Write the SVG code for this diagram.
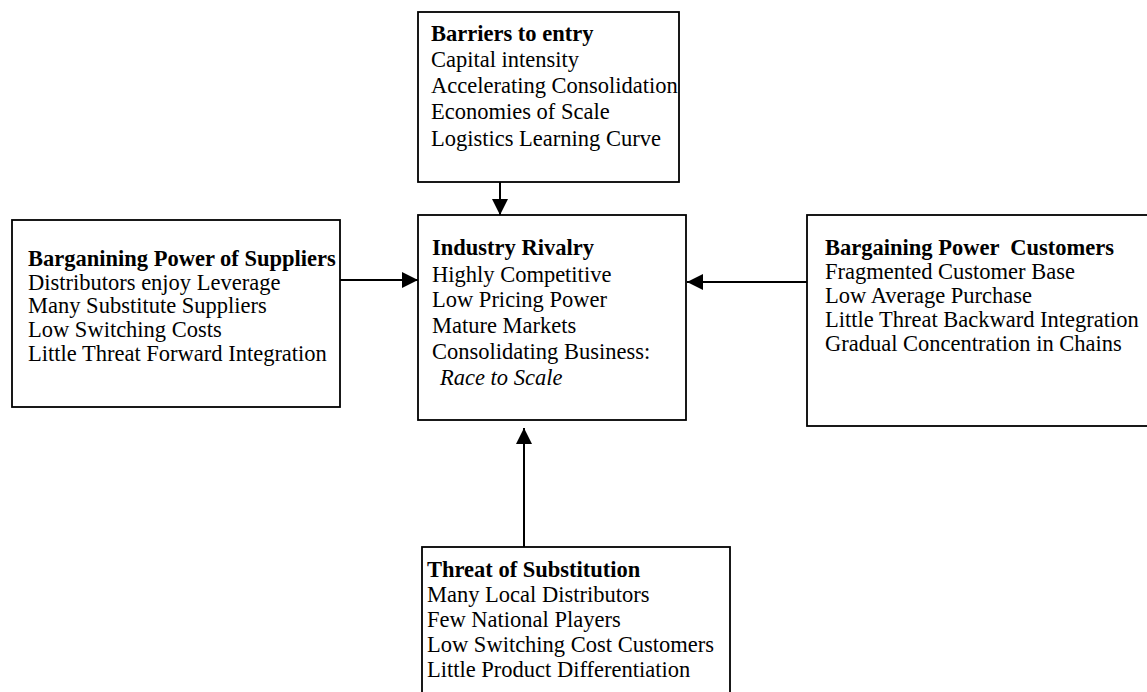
<svg xmlns="http://www.w3.org/2000/svg" width="1147" height="692" viewBox="0 0 1147 692">
<style>
.box{fill:#fff;stroke:#000;stroke-width:1.8}
.t{font-family:"Liberation Serif","Times New Roman",serif;font-size:22.5px;fill:#000}
.h{font-weight:bold}
.i{font-style:italic}
.c{stroke:#000;stroke-width:2;fill:none;marker-end:url(#ah)}
</style>
<defs>
<marker id="ah" viewBox="0 0 16 16" refX="16" refY="8" markerWidth="16" markerHeight="16" markerUnits="userSpaceOnUse" orient="auto">
<path d="M0,0 L16,8 L0,16 z" fill="#000"/>
</marker>
</defs>
<rect width="1147" height="692" fill="#fff"/>
<g id="connectors">
<path class="c" d="M500,182 L500,215"/>
<path class="c" d="M340,280 L418,280"/>
<path class="c" d="M807,282 L687,282"/>
<path class="c" d="M524,547 L524,428"/>
</g>
<g id="barriers">
<rect class="box" x="418" y="12" width="261" height="170"/>
<text class="t h" x="431" y="41">Barriers to entry</text>
<text class="t" x="431" y="67">Capital intensity</text>
<text class="t" x="431" y="93">Accelerating Consolidation</text>
<text class="t" x="431" y="119">Economies of Scale</text>
<text class="t" x="431" y="146">Logistics Learning Curve</text>
</g>
<g id="suppliers">
<rect class="box" x="12" y="220" width="328" height="187"/>
<text class="t h" x="28" y="266">Barganining Power of Suppliers</text>
<text class="t" x="28" y="290">Distributors enjoy Leverage</text>
<text class="t" x="28" y="313">Many Substitute Suppliers</text>
<text class="t" x="28" y="337">Low Switching Costs</text>
<text class="t" x="28" y="361">Little Threat Forward Integration</text>
</g>
<g id="rivalry">
<rect class="box" x="418" y="215" width="268" height="205"/>
<text class="t h" x="432" y="255">Industry Rivalry</text>
<text class="t" x="432" y="282">Highly Competitive</text>
<text class="t" x="432" y="307">Low Pricing Power</text>
<text class="t" x="432" y="333">Mature Markets</text>
<text class="t" x="432" y="359">Consolidating Business:</text>
<text class="t i" x="440" y="385">Race to Scale</text>
</g>
<g id="customers">
<rect class="box" x="807" y="215" width="345" height="211"/>
<text class="t h" x="825" y="255" xml:space="preserve">Bargaining Power  Customers</text>
<text class="t" x="825" y="279">Fragmented Customer Base</text>
<text class="t" x="825" y="303">Low Average Purchase</text>
<text class="t" x="825" y="327">Little Threat Backward Integration</text>
<text class="t" x="825" y="351">Gradual Concentration in Chains</text>
</g>
<g id="substitution">
<rect class="box" x="422" y="547" width="308" height="150"/>
<text class="t h" x="427" y="577">Threat of Substitution</text>
<text class="t" x="427" y="602">Many Local Distributors</text>
<text class="t" x="427" y="627">Few National Players</text>
<text class="t" x="427" y="652">Low Switching Cost Customers</text>
<text class="t" x="427" y="677">Little Product Differentiation</text>
</g>
</svg>
